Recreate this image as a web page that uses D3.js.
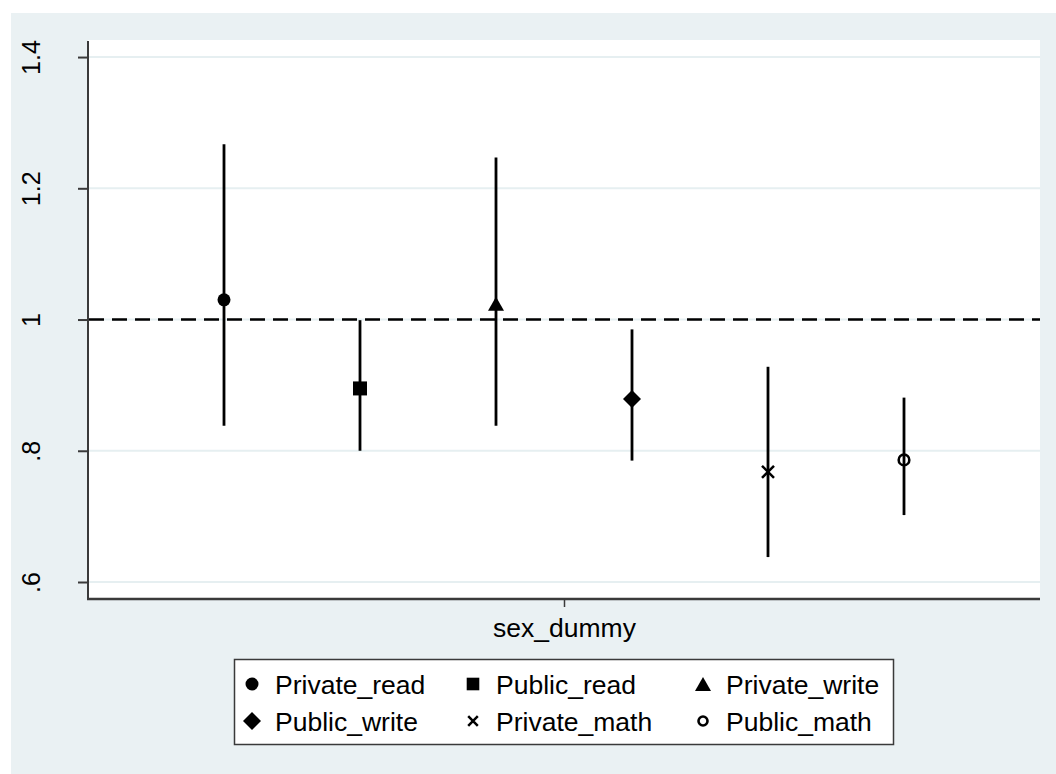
<!DOCTYPE html>
<html>
<head>
<meta charset="utf-8">
<script src="https://cdn.jsdelivr.net/npm/d3@7"></script>
<style>
  html, body { margin: 0; padding: 0; background: #ffffff; }
  svg { display: block; }
  text { font-family: "Liberation Sans", Arial, Helvetica, sans-serif; fill: #000; }
</style>
</head>
<body>
<svg id="chart" width="1056" height="774"></svg>
<script>
// Coefficient plot: point estimates with confidence intervals, one term, six models
const seriesNames = ["Private_read", "Public_read", "Private_write", "Public_write", "Private_math", "Public_math"];
const seriesSymbols = ["circle", "square", "triangle", "diamond", "cross", "hollow"];
const estimates = [1.030, 0.895, 1.024, 0.879, 0.768, 0.786];
const ciLower  = [0.838, 0.800, 0.838, 0.785, 0.638, 0.702];
const ciUpper  = [1.267, 0.999, 1.247, 0.985, 0.928, 0.881];
const category = "sex_dummy";
const yTickValues = [0.6, 0.8, 1.0, 1.2, 1.4];
const yTickLabels = [".6", ".8", "1", "1.2", "1.4"];
const referenceValue = 1;

const svg = d3.select("#chart");
const W = 1056, H = 774;
const plot = { left: 88, right: 1040, top: 40, bottom: 599 };

// background panels
svg.append("rect").attr("x", 11).attr("y", 13).attr("width", W - 11).attr("height", H - 13).attr("fill", "#eaf1f3");
svg.append("rect").attr("x", plot.left).attr("y", plot.top)
  .attr("width", plot.right - plot.left).attr("height", plot.bottom - plot.top).attr("fill", "#ffffff");

// scales
const y = d3.scaleLinear().domain([0.5741, 1.4260]).range([plot.bottom, plot.top]);
const x = d3.scaleLinear().domain([0.5, 1.5]).range([plot.left, plot.right]);
const nSeries = seriesNames.length;
const offset = i => 1 + (i - (nSeries - 1) / 2) / 7;

// horizontal grid lines
svg.append("g").selectAll("line").data(yTickValues).join("line")
  .attr("x1", plot.left).attr("x2", plot.right)
  .attr("y1", d => y(d)).attr("y2", d => y(d))
  .attr("stroke", "#e6eff1").attr("stroke-width", 2);

// reference line
svg.append("line")
  .attr("x1", plot.left + 1).attr("x2", plot.right)
  .attr("y1", y(referenceValue)).attr("y2", y(referenceValue))
  .attr("stroke", "#000").attr("stroke-width", 2.6).attr("stroke-dasharray", "15,8");

// y axis
const yAxis = d3.axisLeft(y).tickValues(yTickValues).tickSize(10).tickFormat((d, i) => yTickLabels[i]);
const gy = svg.append("g").attr("transform", `translate(${plot.left},0)`).call(yAxis);
gy.select(".domain").remove();
gy.selectAll(".tick line").attr("stroke", "#3a3a3a").attr("stroke-width", 2);
gy.selectAll(".tick text").remove();
gy.selectAll(".tick").append("text")
  .attr("transform", "translate(-48,0) rotate(-90)")
  .attr("text-anchor", "middle")
  .attr("dy", 0)
  .style("font-size", "25px")
  .text((d, i) => yTickLabels[i]);
svg.append("line").attr("x1", plot.left).attr("x2", plot.left)
  .attr("y1", plot.top + 1).attr("y2", plot.bottom + 1)
  .attr("stroke", "#3a3a3a").attr("stroke-width", 2);

// x axis
const xAxis = d3.axisBottom(x).tickValues([1]).tickSize(8).tickFormat(() => category);
const gx = svg.append("g").attr("transform", `translate(0,${plot.bottom})`).call(xAxis);
gx.select(".domain").remove();
gx.selectAll(".tick line").attr("stroke", "#3a3a3a").attr("stroke-width", 1.5);
gx.selectAll(".tick text").attr("y", 38).attr("dy", 0).style("font-size", "26.5px").attr("fill", "#000");
svg.append("line").attr("x1", plot.left - 1).attr("x2", plot.right)
  .attr("y1", plot.bottom).attr("y2", plot.bottom)
  .attr("stroke", "#3a3a3a").attr("stroke-width", 2.5);

// marker shapes
function drawMarker(g, kind, scale) {
  const s = scale || 1;
  if (kind === "circle") {
    g.append("circle").attr("r", 6.5 * s).attr("fill", "#000");
  } else if (kind === "square") {
    g.append("rect").attr("x", -7 * s).attr("y", -7 * s).attr("width", 14 * s).attr("height", 14 * s).attr("fill", "#000");
  } else if (kind === "triangle") {
    const w = 8 * s, h = 7 * s;
    g.append("path").attr("d", `M0,${-h}L${w},${h}L${-w},${h}Z`).attr("fill", "#000");
  } else if (kind === "diamond") {
    const r = 9 * s;
    g.append("path").attr("d", `M0,${-r}L${r},0L0,${r}L${-r},0Z`).attr("fill", "#000");
  } else if (kind === "cross") {
    const r = 6 * s;
    g.append("path").attr("d", `M${-r},${-r}L${r},${r}M${-r},${r}L${r},${-r}`)
      .attr("stroke", "#000").attr("stroke-width", 2.5).attr("fill", "none");
  } else if (kind === "hollow") {
    g.append("circle").attr("r", 5.3 * s).attr("fill", "none").attr("stroke", "#000").attr("stroke-width", 2.6);
  }
}

// confidence intervals and estimates
const idx = d3.range(nSeries);
svg.append("g").selectAll("line").data(idx).join("line")
  .attr("x1", i => x(offset(i))).attr("x2", i => x(offset(i)))
  .attr("y1", i => y(ciLower[i])).attr("y2", i => y(ciUpper[i]))
  .attr("stroke", "#000").attr("stroke-width", 2.8);

idx.forEach(i => {
  const g = svg.append("g").attr("transform", `translate(${x(offset(i))},${y(estimates[i])})`);
  drawMarker(g, seriesSymbols[i], 1);
});

// legend
const legend = svg.append("g");
legend.append("rect").attr("x", 234.5).attr("y", 659.5).attr("width", 659).attr("height", 85)
  .attr("fill", "#fff").attr("stroke", "#3a3a3a").attr("stroke-width", 1.5);
const colX = [252, 473, 703];
const rowY = [684, 721];
const legendScales = { circle: 1, square: 0.9, triangle: 1, diamond: 1, cross: 0.8, hollow: 0.85 };
idx.forEach(i => {
  const cx = colX[i % 3], cy = rowY[Math.floor(i / 3)];
  const mg = legend.append("g").attr("transform", `translate(${cx},${cy})`);
  drawMarker(mg, seriesSymbols[i], legendScales[seriesSymbols[i]]);
  legend.append("text").attr("x", cx + 23).attr("y", cy + 10)
    .style("font-size", "26.5px").text(seriesNames[i]);
});
</script>
</body>
</html>
